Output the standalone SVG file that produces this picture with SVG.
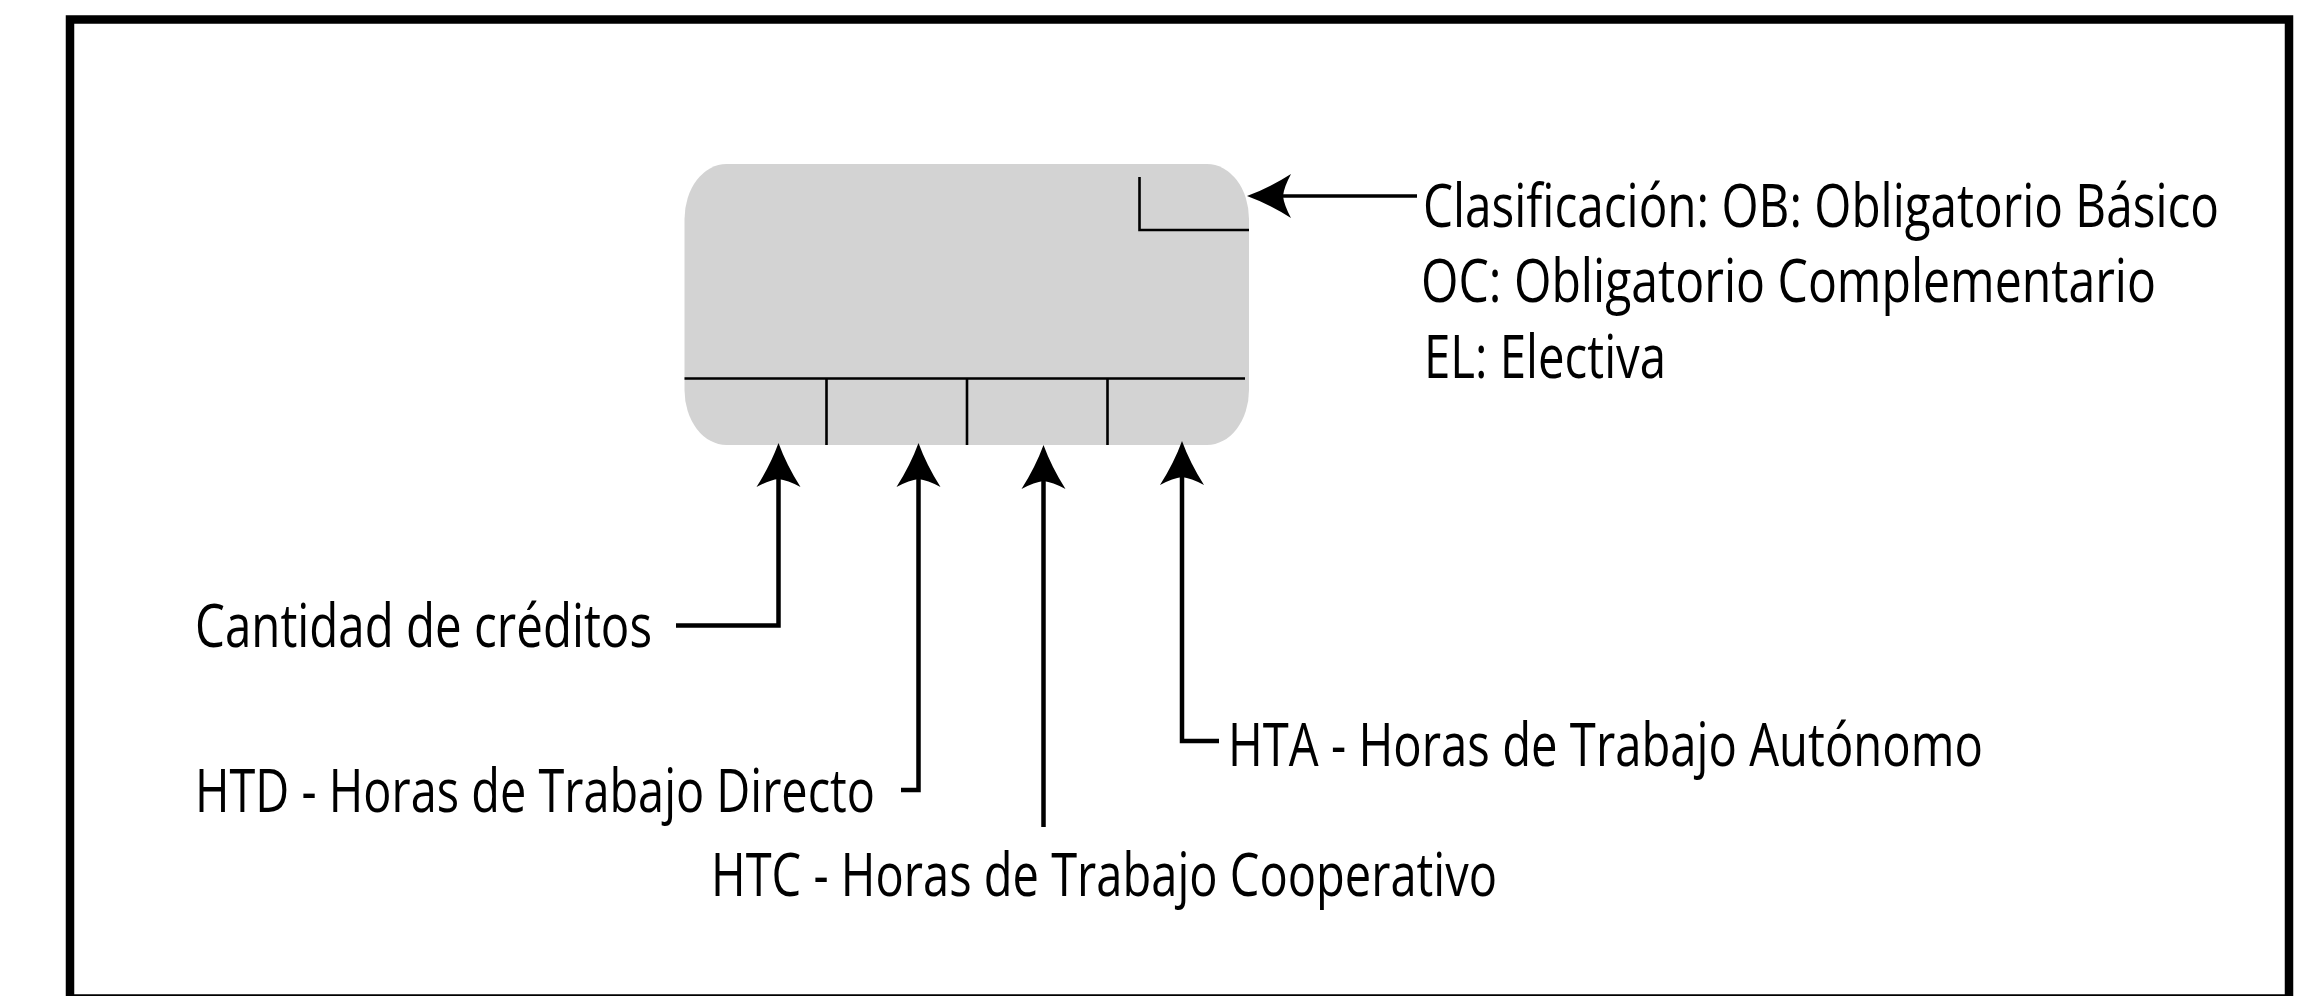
<svg xmlns="http://www.w3.org/2000/svg" width="2313" height="996" viewBox="0 0 2313 996">
  <style>
    .lbl { font-family: "Open Sans", "Noto Sans", "Liberation Sans", sans-serif; font-size: 60px; font-weight: 500; fill: #000; }
    .div { stroke: #000; stroke-width: 2.6; fill: none; }
    .con { stroke: #000; stroke-width: 4.5; fill: none; }
  </style>
  <defs>
    <marker id="ah" markerUnits="userSpaceOnUse" markerWidth="60" markerHeight="60" viewBox="-15 -30 60 60" refX="0" refY="0" orient="auto" overflow="visible">
      <path d="M36,0 Q14,-8 -8,-22 Q-1,-9 0,0 Q-1,9 -8,22 Q14,8 36,0 Z" fill="#000"/>
    </marker>
  </defs>

  <rect id="frame" x="70" y="19.5" width="2219" height="979" fill="#fff" stroke="#000" stroke-width="8.5"/>

  <g id="card">
    <rect x="684.5" y="164" width="564.5" height="281" rx="42" ry="55" fill="#d3d3d3"/>
    <path class="div" d="M684.5,378.5 H1245 M826.5,378.5 V445 M967,378.5 V445 M1107.5,378.5 V445"/>
    <path class="div" d="M1139.5,177 V230 H1249"/>
  </g>

  <g id="connectors">
    <path class="con" d="M676,625.5 H778.5 V479" marker-end="url(#ah)"/>
    <path class="con" d="M901,790 H918.5 V479" marker-end="url(#ah)"/>
    <path class="con" d="M1043.5,827 V481" marker-end="url(#ah)"/>
    <path class="con" d="M1219,741 H1182 V477" marker-end="url(#ah)"/>
    <path class="con" style="stroke-width:3.5" d="M1417,196 H1283" marker-end="url(#ah)"/>
  </g>

  <g id="label-clasificacion">
    <text class="lbl" transform="translate(1423,227) scale(0.78,1)" textLength="1020.5" lengthAdjust="spacingAndGlyphs">Clasificación: OB: Obligatorio Básico</text>
    <text class="lbl" transform="translate(1421,302) scale(0.78,1)" textLength="942.3" lengthAdjust="spacingAndGlyphs">OC: Obligatorio Complementario</text>
    <text class="lbl" transform="translate(1424,378) scale(0.78,1)" textLength="310.3" lengthAdjust="spacingAndGlyphs">EL: Electiva</text>
  </g>
  <g id="label-creditos">
    <text class="lbl" transform="translate(195,647) scale(0.78,1)" textLength="585.9" lengthAdjust="spacingAndGlyphs">Cantidad de créditos</text>
  </g>
  <g id="label-htd">
    <text class="lbl" transform="translate(195,812) scale(0.78,1)" textLength="871.8" lengthAdjust="spacingAndGlyphs">HTD - Horas de Trabajo Directo</text>
  </g>
  <g id="label-htc">
    <text class="lbl" transform="translate(711,896) scale(0.78,1)" textLength="1007.7" lengthAdjust="spacingAndGlyphs">HTC - Horas de Trabajo Cooperativo</text>
  </g>
  <g id="label-hta">
    <text class="lbl" transform="translate(1228,766) scale(0.78,1)" textLength="967.9" lengthAdjust="spacingAndGlyphs">HTA - Horas de Trabajo Autónomo</text>
  </g>
</svg>
